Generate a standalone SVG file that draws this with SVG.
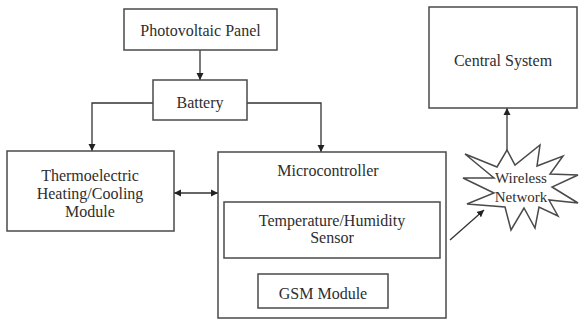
<svg xmlns="http://www.w3.org/2000/svg" width="579" height="323" viewBox="0 0 579 323">
<style>
.box{fill:#fff;stroke:#4a4a4a;stroke-width:1.5}
.lbl{font-family:"Liberation Serif","Times New Roman",serif;font-size:16px;fill:#2e2e2e;text-anchor:middle}
.sm{font-size:15px}
.ln{fill:none;stroke:#333;stroke-width:1.3}
</style>
<defs>
<marker id="ah" markerWidth="8" markerHeight="8" refX="7" refY="4" orient="auto" markerUnits="userSpaceOnUse">
<path d="M0,0.5 L7,4 L0,7.5 Z" fill="#222"/>
</marker>
<marker id="as" markerWidth="8" markerHeight="8" refX="0" refY="4" orient="auto" markerUnits="userSpaceOnUse">
<path d="M7,0.5 L0,4 L7,7.5 Z" fill="#222"/>
</marker>
</defs>
<rect width="579" height="323" fill="#fff"/>
<g id="connectors">
<path class="ln" d="M200,50 V80" marker-end="url(#ah)"/>
<path class="ln" d="M153,103 H92 V151" marker-end="url(#ah)"/>
<path class="ln" d="M247,103 H321 V152" marker-end="url(#ah)"/>
<path class="ln" d="M174,193 H218" marker-start="url(#as)" marker-end="url(#ah)"/>
<path class="ln" d="M322,185 V202" marker-end="url(#ah)"/>
<path class="ln" d="M323,258 V274" marker-end="url(#ah)"/>
<path class="ln" d="M507,150 V108" marker-end="url(#ah)"/>
<path class="ln" d="M450,240 L484,210" marker-end="url(#ah)"/>
</g>
<g id="pv"><rect class="box" x="124" y="9" width="153" height="41"/><text class="lbl" x="200.5" y="36">Photovoltaic Panel</text></g>
<g id="battery"><rect class="box" x="153" y="80" width="94" height="40"/><text class="lbl" x="200" y="108">Battery</text></g>
<g id="thermo"><rect class="box" x="7" y="151" width="167" height="80"/><text class="lbl" x="90" y="181">Thermoelectric</text><text class="lbl" x="90" y="199">Heating/Cooling</text><text class="lbl" x="90" y="217">Module</text></g>
<g id="micro"><rect class="box" x="218" y="152" width="228" height="166"/><text class="lbl" x="328" y="176">Microcontroller</text></g>
<g id="sensor"><rect class="box" x="224" y="202" width="216" height="56"/><text class="lbl" x="332" y="226">Temperature/Humidity</text><text class="lbl" x="332" y="243">Sensor</text></g>
<g id="gsm"><rect class="box" x="258" y="274" width="130" height="34"/><text class="lbl" x="323" y="299">GSM Module</text></g>
<g id="central"><rect class="box" x="429" y="7" width="148" height="101"/><text class="lbl" x="503" y="66">Central System</text></g>
<g id="wireless"><polygon class="box" stroke-width="1.2" points="465,154 497,167 507,150 515,165 540,145 537,166 563,156 550,174 578,175 552,187 578,203 549,200 558,216 539,207 535,228 524,208 511,230 505,207 467,204 494,193 463,178 494,178"/><text class="lbl sm" x="521" y="183">Wireless</text><text class="lbl sm" x="521" y="202">Network</text></g>
</svg>
